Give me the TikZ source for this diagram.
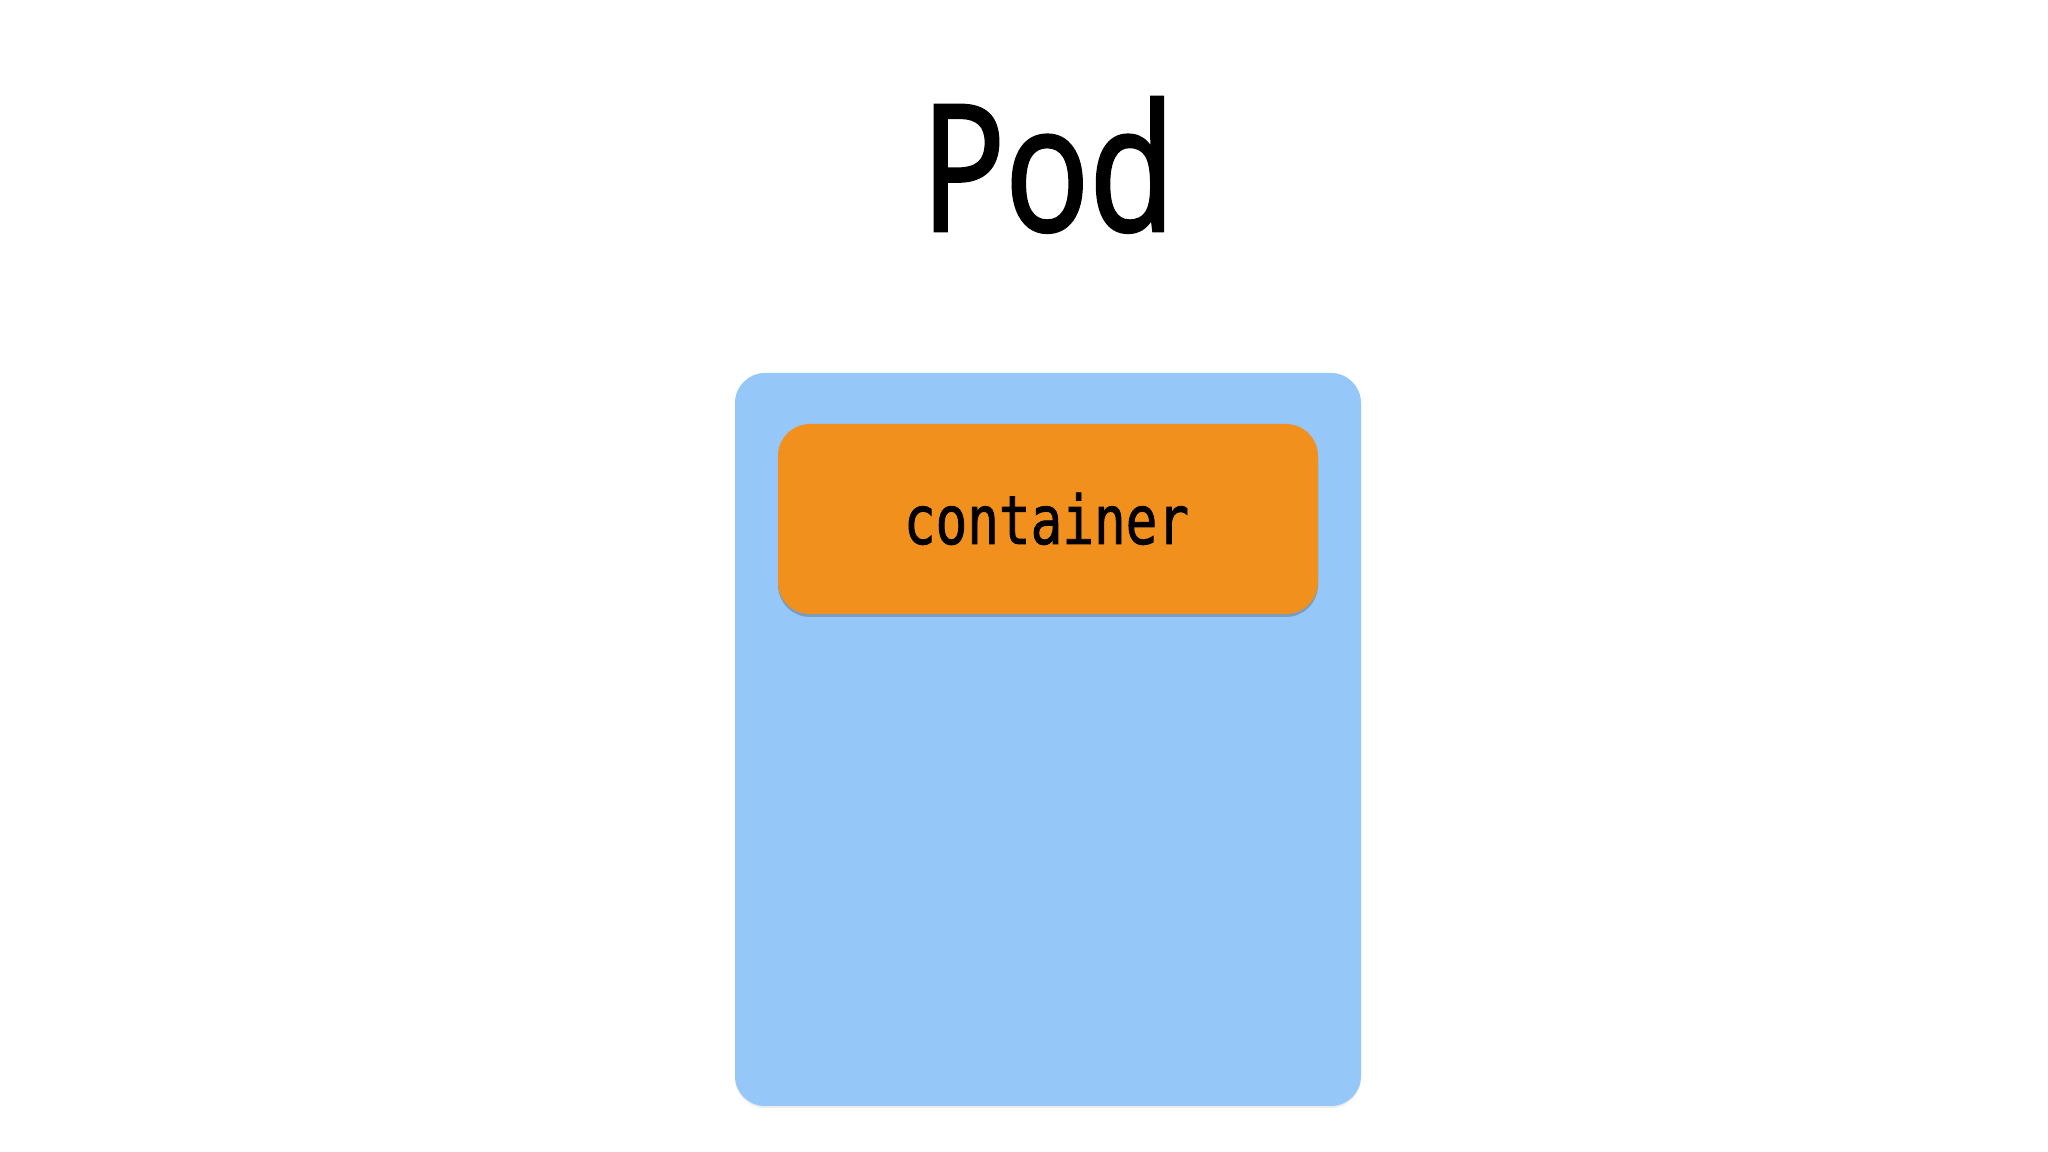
\documentclass[tikz,border=0pt]{standalone}
\usepackage{fontspec}
\usetikzlibrary{shadows}
\newfontfamily\titlefont[FakeStretch=0.79,FakeBold=1.6]{Open Sans}
\newfontfamily\monofont[FakeStretch=0.78,FakeBold=1.2]{DejaVu Sans Mono}
\definecolor{podblue}{RGB}{149,200,248}
\definecolor{ctorange}{RGB}{242,144,30}
\tikzset{
  podbox/.style={fill=podblue, draw=none, rounded corners=0.3cm, minimum width=6.26cm, minimum height=7.33cm,
    drop shadow={shadow xshift=0cm, shadow yshift=-0.02cm, opacity=0.12, fill=black!60}},
  ctbox/.style={fill=ctorange, draw=none, rounded corners=0.32cm, minimum width=5.40cm, minimum height=1.90cm,
    drop shadow={shadow xshift=0cm, shadow yshift=-0.03cm, opacity=0.35, fill=black!70}},
  titletext/.style={font=\titlefont\fontsize{50.2}{60}\selectfont, anchor=base, inner sep=0pt},
  cttext/.style={font=\monofont\fontsize{19.2}{22}\selectfont, anchor=base, inner sep=0pt}
}
\begin{document}
\begin{tikzpicture}
\fill[white] (0,0) rectangle (20.48,11.52);
\useasboundingbox (0,0) rectangle (20.48,11.52);
\node[titletext] (title) at (10.48,9.21) {Pod};
\node[podbox] (pod) at (10.48,4.125) {};
\node[ctbox] (ct) at (10.48,6.33) {};
\node[cttext] (ctlabel) at (10.465,6.08) {container};
\end{tikzpicture}
\end{document}
